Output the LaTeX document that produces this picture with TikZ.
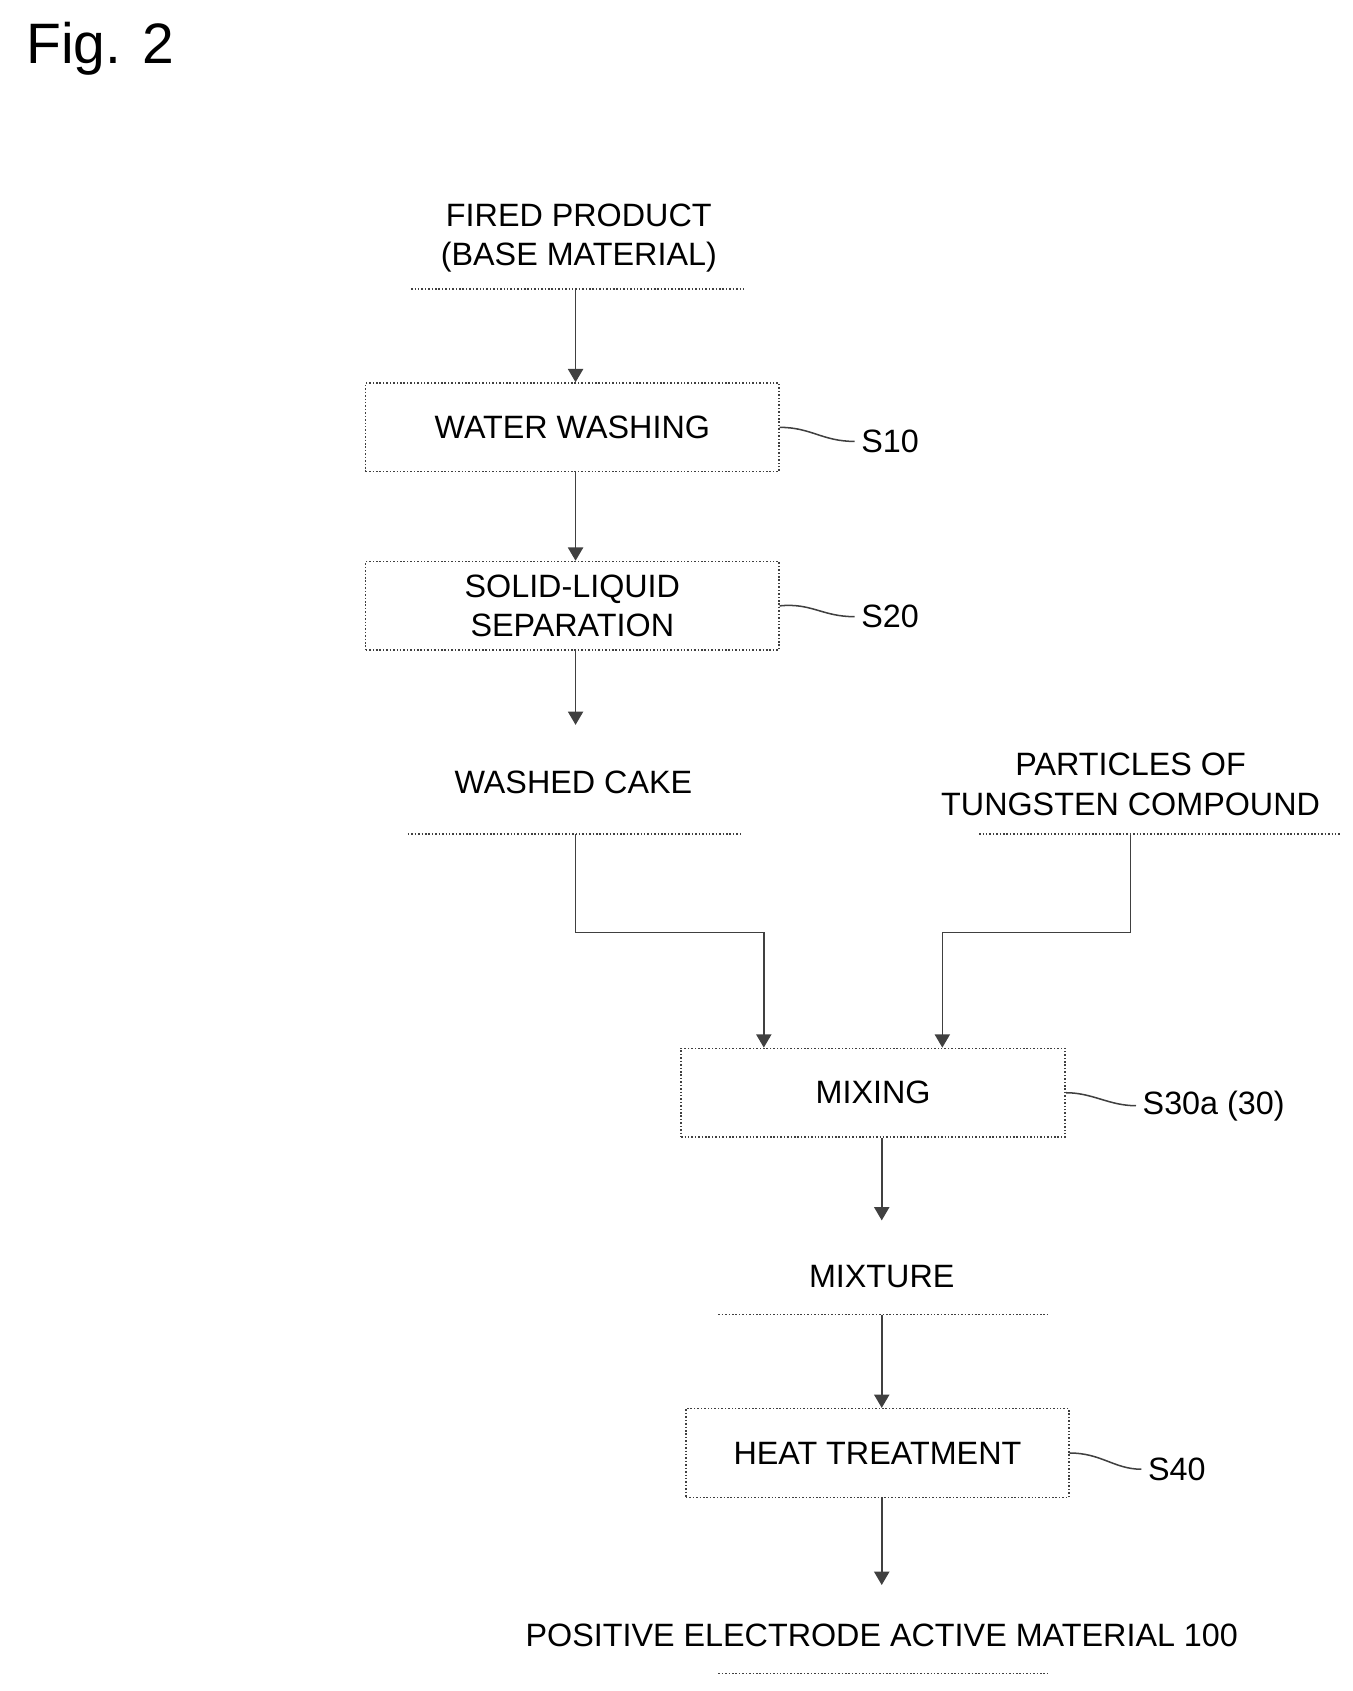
\documentclass[tikz,border=0pt]{standalone}
\usepackage{fontspec}
\setmainfont{Liberation Sans}
\usetikzlibrary{positioning, calc, arrows.meta}
\tikzset{
  Step/.style={rectangle, draw=black!75, densely dotted, thick, minimum width=7.64cm, minimum height=1.64cm, align=center, font=\fontsize{17}{21}\selectfont},
  Item/.style={align=center, font=\fontsize{17}{21}\selectfont},
  Arrow/.style={draw=black!75, thick, -{Triangle[length=7pt,width=8pt]}},
  Rule/.style={draw=black!75, thick, densely dotted},
  Tag/.style={font=\fontsize{17}{21}\selectfont, anchor=west},
}
\begin{document}
\begin{tikzpicture}[x=0.02cm, y=-0.02cm]
    \useasboundingbox (0,0) rectangle (1250,1563);
    \node [anchor=west, font=\fontsize{30}{34}\selectfont] (fig) at (18,45) {Fig. 2};
    % inputs and steps
    \node [Item] (fired) at (535,220) {FIRED PRODUCT\\(BASE MATERIAL)};
    \coordinate (f1) at (380,267); \coordinate (f2) at (688,267); \coordinate (fc) at (532,267);
    \node [Step] (wash) at (529,395) {WATER WASHING};
    \node [Step] (sep) at (529,560) {SOLID-LIQUID\\SEPARATION};
    \node [Item] (cake) at (530,723) {WASHED CAKE};
    \coordinate (c1) at (377,771); \coordinate (c2) at (684,771); \coordinate (cc) at (532,771);
    \node [Item] (part) at (1045,725) {PARTICLES OF\\TUNGSTEN COMPOUND};
    \coordinate (p1) at (905,771); \coordinate (p2) at (1240,771); \coordinate (pc) at (1045,771);
    \node [Step, minimum width=7.1cm] (mix) at (807,1010) {MIXING};
    \node [Item] (mixture) at (815,1180) {MIXTURE};
    \coordinate (m1) at (664,1215); \coordinate (m2) at (970,1215); \coordinate (mc) at (815,1215);
    \node [Step, minimum width=7.08cm] (heat) at (811,1343) {HEAT TREATMENT};
    \node [Item] (prod) at (815,1512) {POSITIVE ELECTRODE ACTIVE MATERIAL 100};
    \coordinate (q1) at (664,1547); \coordinate (q2) at (970,1547);
    % step tags
    \node [Tag] (s10) at (790,408) {S10};
    \node [Tag] (s20) at (790,570) {S20};
    \node [Tag] (s30) at (1050,1022) {S30a (30)};
    \node [Tag] (s40) at (1055,1358) {S40};
    \draw [Rule] (f1) -- (f2); \draw [Rule] (c1) -- (c2);
    \draw [Rule] (p1) -- (p2); \draw [Rule] (m1) -- (m2);
    \draw [Rule] (q1) -- (q2);
    \draw [Arrow] (fc) -- (wash.north -| fc);
    \draw [Arrow] (wash.south -| fc) -- (sep.north -| fc);
    \draw [Arrow] (sep.south -| fc) -- (532,670);
    \draw [Arrow] (cc) -- (532,862) -- (706,862) -- (mix.north -| 706,0);
    \draw [Arrow] (pc) -- (1045,862) -- (871,862) -- (mix.north -| 871,0);
    \draw [Arrow] (mix.south -| mc) -- (815,1128);
    \draw [Arrow] (mc) -- (heat.north -| mc);
    \draw [Arrow] (heat.south -| mc) -- (815,1465);
    % leaders
    \draw [black!75, thick] (wash.east) .. controls (750,395) and (760,408) .. (s10.west);
    \draw [black!75, thick] (sep.east) .. controls (750,557) and (760,570) .. (s20.west);
    \draw [black!75, thick] (mix.east) .. controls (1010,1010) and (1025,1022) .. (s30.west);
    \draw [black!75, thick] (heat.east) .. controls (1018,1343) and (1030,1358) .. (s40.west);
\end{tikzpicture}
\end{document}
